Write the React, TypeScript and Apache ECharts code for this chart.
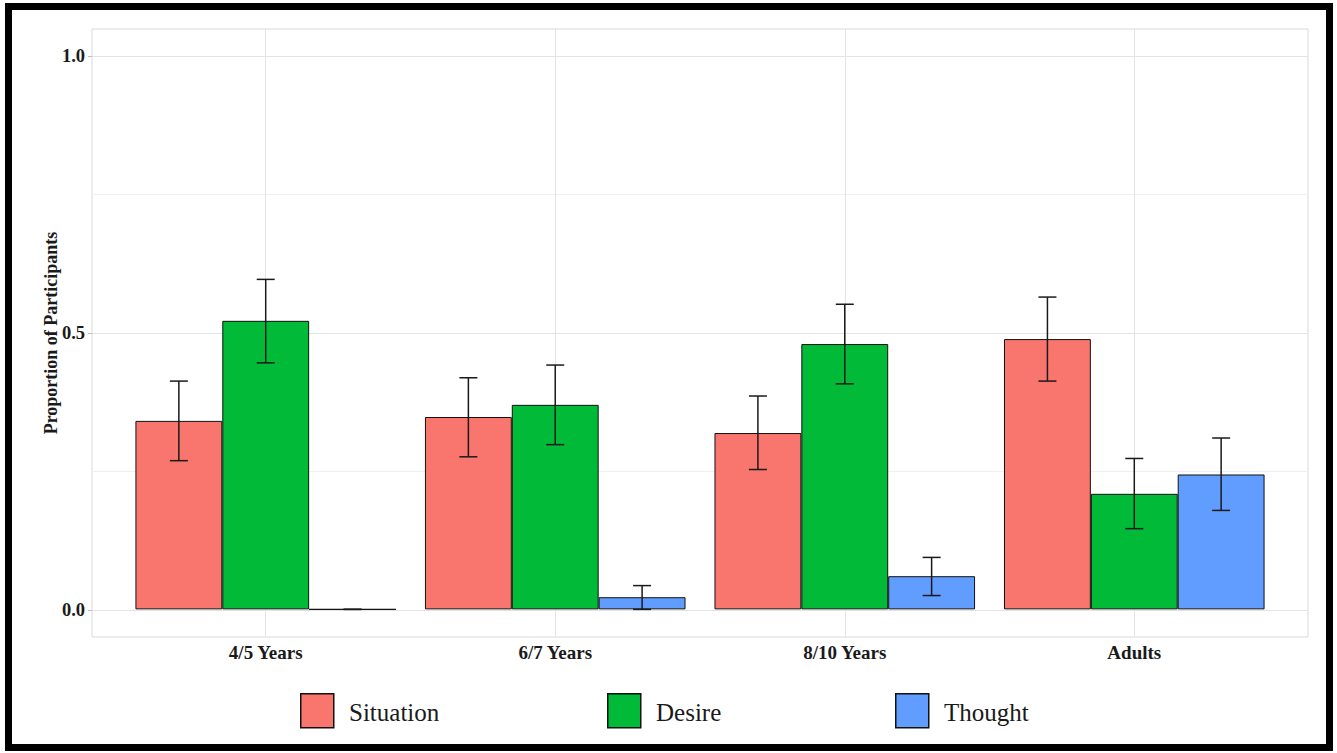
import React, { useEffect, useRef } from "react";
import * as echarts from "echarts";

// Age groups on the x axis
const categories = ["4/5 Years", "6/7 Years", "8/10 Years", "Adults"];
const seriesNames = ["Situation", "Desire", "Thought"];

// Proportion of participants per response type
const situation = [0.341, 0.348, 0.319, 0.489];
const desire = [0.522, 0.37, 0.48, 0.209];
const thought = [0, 0.022, 0.06, 0.244];

// Error bar bounds (lower / upper)
const situationLow = [0.269, 0.276, 0.253, 0.413];
const situationHigh = [0.413, 0.419, 0.386, 0.565];
const desireLow = [0.446, 0.298, 0.408, 0.146];
const desireHigh = [0.597, 0.442, 0.552, 0.273];
const thoughtLow = [0, 0, 0.025, 0.179];
const thoughtHigh = [0, 0.043, 0.094, 0.31];

// y axis ticks
const yTicks = [0, 0.5, 1.0];

const colors = ["#F8766D", "#00BA38", "#619CFF"];
const SERIF = "Liberation Serif";

// horizontal placement of the three legend keys
const legendLefts = [300, 607, 895];

export default function App() {
  const ref = useRef<HTMLDivElement>(null);

  useEffect(() => {
    if (!ref.current) return;
    const chart = echarts.init(ref.current, null, { renderer: "svg" });

    const values = [situation, desire, thought];
    const lows = [situationLow, desireLow, thoughtLow];
    const highs = [situationHigh, desireHigh, thoughtHigh];

    // panel geometry: category bands sit inside the panel with a 0.6-band margin each side
    const panelLeft = 92;
    const panelWidth = 1216;
    const band = panelWidth / 4.2;
    const catLeft = panelLeft + 0.1 * band;

    const barSeries = seriesNames.map((name, i) => ({
      name,
      type: "bar",
      xAxisIndex: 0,
      yAxisIndex: 0,
      barWidth: "30%",
      barGap: "0%",
      z: 2,
      itemStyle: { color: colors[i], borderColor: "#111", borderWidth: 1 },
      data: values[i],
    }));

    const errorSeries = seriesNames.map((name, i) => ({
      name: name + " error",
      type: "custom",
      xAxisIndex: 0,
      yAxisIndex: 0,
      z: 3,
      silent: true,
      encode: { x: 0, y: [1, 2] },
      data: categories.map((_, k) => [k, lows[i][k], highs[i][k]]),
      renderItem: (params: any, api: any) => {
        const idx = api.value(0);
        const lo = api.coord([idx, api.value(1)]);
        const hi = api.coord([idx, api.value(2)]);
        const bw = api.size([1, 0])[0];
        const x = lo[0] + (i - 1) * 0.3 * bw;
        const cap = 9;
        const style = { stroke: "#1a1a1a", lineWidth: 1.5 };
        return {
          type: "group",
          children: [
            { type: "line", shape: { x1: x, y1: lo[1], x2: x, y2: hi[1] }, style },
            { type: "line", shape: { x1: x - cap, y1: hi[1], x2: x + cap, y2: hi[1] }, style },
            { type: "line", shape: { x1: x - cap, y1: lo[1], x2: x + cap, y2: lo[1] }, style },
          ],
        };
      },
    }));

    // legend keys (swatches) come from the legend component; the names are set as serif text
    const legendBase = {
      icon: "rect",
      itemWidth: 33,
      itemHeight: 34,
      top: 693,
      padding: 0,
      orient: "horizontal",
      selectedMode: false,
      itemStyle: { borderColor: "#111", borderWidth: 1.5 },
      formatter: () => "",
    };

    const legendTexts = seriesNames.map((name, i) => ({
      type: "text",
      silent: true,
      left: legendLefts[i] + 49,
      top: 700,
      style: {
        text: name,
        fontFamily: SERIF,
        fontSize: 25,
        fill: "#1a1a1a",
      },
    }));

    const option: any = {
      animation: false,
      backgroundColor: "#ffffff",
      textStyle: { fontFamily: SERIF },
      legend: seriesNames.map((name, i) => ({ ...legendBase, left: legendLefts[i], data: [name] })),
      grid: [
        { left: catLeft, width: 4 * band, top: 29, height: 608 },
        { left: panelLeft, width: panelWidth, top: 56, height: 554 },
        {
          left: panelLeft,
          width: panelWidth,
          top: 29,
          height: 608,
          show: true,
          borderColor: "#d9d9d9",
          borderWidth: 1,
          backgroundColor: "transparent",
        },
      ],
      xAxis: [
        {
          gridIndex: 0,
          type: "category",
          data: categories,
          axisLine: { show: false },
          axisTick: { show: true, alignWithLabel: true, length: 4, lineStyle: { color: "#bdbdbd" } },
          axisLabel: { fontFamily: SERIF, fontWeight: "bold", fontSize: 19, color: "#1a1a1a", margin: 6 },
          splitLine: { show: false },
        },
        { gridIndex: 1, type: "value", min: 0, max: 1, show: false },
        { gridIndex: 2, type: "value", min: 0, max: 1, show: false },
      ],
      yAxis: [
        { gridIndex: 0, type: "value", min: -0.05, max: 1.05, show: false },
        {
          gridIndex: 1,
          type: "value",
          min: 0,
          max: 1,
          interval: 0.5,
          axisLine: { show: false },
          axisTick: { show: true, length: 4, lineStyle: { color: "#bdbdbd" } },
          axisLabel: {
            fontFamily: SERIF,
            fontWeight: "bold",
            fontSize: 18.5,
            color: "#1a1a1a",
            margin: 7,
            customValues: yTicks,
            formatter: (v: number) => v.toFixed(1),
          },
          splitLine: { show: true, lineStyle: { color: "#e4e4e4", width: 1 } },
          minorTick: { show: false, splitNumber: 2 },
          minorSplitLine: { show: true, lineStyle: { color: "#f0f0f0", width: 1 } },
          name: "Proportion of Participants",
          nameLocation: "middle",
          nameGap: 32,
          nameMoveOverlap: false,
          nameTextStyle: { fontFamily: SERIF, fontWeight: "bold", fontSize: 18, color: "#1a1a1a" },
        },
        { gridIndex: 2, type: "value", min: 0, max: 1, show: false },
      ],
      graphic: [
        {
          type: "rect",
          silent: true,
          z: 100,
          shape: { x: 8.5, y: 6.5, width: 1321, height: 741 },
          style: { fill: "none", stroke: "#000", lineWidth: 7 },
        },
        ...legendTexts,
      ],
      series: [
        {
          name: "gridlines",
          type: "line",
          xAxisIndex: 0,
          yAxisIndex: 0,
          data: [],
          silent: true,
          markLine: {
            z: 1,
            silent: true,
            symbol: ["none", "none"],
            label: { show: false },
            lineStyle: { color: "#e4e4e4", type: "solid", width: 1 },
            data: categories.map((c) => ({ xAxis: c })),
          },
        },
        ...barSeries,
        ...errorSeries,
      ],
    };

    chart.setOption(option);
    return () => chart.dispose();
  }, []);

  return (
    <div
      ref={ref}
      style={{ position: "absolute", left: 0, top: 0, width: 1337, height: 753, background: "#fff" }}
    />
  );
}
